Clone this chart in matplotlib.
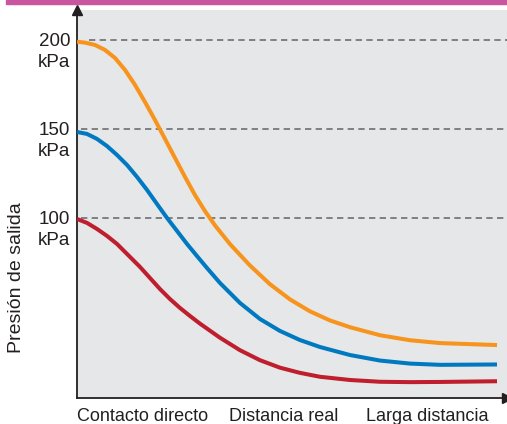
import matplotlib
matplotlib.use('Agg')
import matplotlib.pyplot as plt

plt.rcParams['font.family'] = ['Liberation Sans', 'DejaVu Sans']

# distance (arbitrary units) vs outlet pressure (kPa)
orange_x = [0, 8, 18, 28, 38, 48, 58, 68, 78, 88, 98, 108, 118, 128, 138, 153, 173, 193,
            213, 233, 253, 273, 303, 333, 363, 393, 420]
orange_y = [199.0, 198.5, 197.2, 194.4, 189.9, 183.2, 174.8, 165.2, 155.1, 144.5, 133.8,
            123.2, 113.0, 104.0, 96.0, 85.5, 73.5, 63.0, 54.5, 47.8, 42.7, 38.9, 34.4,
            31.6, 30.0, 29.4, 28.9]

blue_x = [0, 10, 20, 30, 40, 50, 60, 70, 80, 90, 100, 110, 120, 130, 143, 163, 183, 203,
          223, 243, 273, 303, 333, 363, 420]
blue_y = [148.4, 147.3, 144.5, 140.5, 135.5, 129.9, 123.2, 115.9, 108.0, 100.2, 92.9,
          85.6, 78.8, 72.1, 63.7, 52.5, 43.5, 36.8, 31.7, 27.8, 23.3, 20.2, 18.5, 17.8, 18.0]

red_x = [0, 10, 20, 30, 40, 50, 63, 73, 83, 93, 103, 113, 123, 143, 163, 183, 203, 223,
         243, 273, 303, 333, 363, 420]
red_y = [99.6, 97.4, 94.0, 90.1, 85.6, 80.0, 72.7, 66.5, 60.3, 54.7, 49.7, 45.2, 40.9,
         33.0, 26.0, 20.4, 16.2, 13.3, 11.1, 9.3, 8.3, 8.1, 8.2, 8.6]

ref_levels = [200, 150, 100]
ref_numbers = ['200', '150', '100']
x_labels = ['Contacto directo', 'Distancia real', 'Larga distancia']
x_label_pos = [66, 207, 350]

fig = plt.figure(figsize=(5.07, 4.24), dpi=100)
fig.patch.set_facecolor('white')

# magenta strip at top
fig.patches.append(plt.Rectangle((6 / 507, 1 - 4 / 424), 1, 4 / 424,
                                 transform=fig.transFigure, color='#c9559e', zorder=0))

ax = fig.add_axes([77 / 507, 26 / 424, 430 / 507, 388 / 424])
ax.set_facecolor('#e6e7e8')
ax.set_xlim(0, 430)
ax.set_ylim(-0.8, 216.8)

for lev in ref_levels:
    start = 12 / 430 if lev == 200 else 4 / 430
    ax.axhline(lev, xmin=start, xmax=1, color='#6d6e70', lw=1.2,
               dashes=(3.8, 2.6), zorder=1)

ax.plot(red_x, red_y, color='#be1e2d', lw=2.9, solid_capstyle='butt',
        solid_joinstyle='round', zorder=3)
ax.plot(blue_x, blue_y, color='#0079c1', lw=2.9, solid_capstyle='butt',
        solid_joinstyle='round', zorder=3)
ax.plot(orange_x, orange_y, color='#f7941d', lw=2.9, solid_capstyle='butt',
        solid_joinstyle='round', zorder=3)

for s in ['top', 'right']:
    ax.spines[s].set_visible(False)
for s in ['left', 'bottom']:
    ax.spines[s].set_color('#231f20')
    ax.spines[s].set_linewidth(1.3)
ax.set_xticks([])
ax.set_yticks([])

# arrow heads
ax.plot([0], [1.0], marker='^', color='#231f20', markersize=7,
        transform=ax.transAxes, clip_on=False, zorder=5)
ax.plot([1.0], [0], marker='>', color='#231f20', markersize=7,
        transform=ax.transAxes, clip_on=False, zorder=5)

for lev, num in zip(ref_levels, ref_numbers):
    ax.text(-7, lev - 3.2, num, ha='right', va='baseline', fontsize=13.5,
            color='#231f20', clip_on=False)
    ax.text(-7, lev - 15, 'kPa', ha='right', va='baseline', fontsize=13.5,
            color='#231f20', clip_on=False)

for pos, lab in zip(x_label_pos, x_labels):
    ax.text(pos, -13.7, lab, ha='center', va='baseline', fontsize=13,
            color='#231f20', clip_on=False)

fig.text(17 / 507, 1 - 278 / 424, 'Presión de salida', rotation=90, ha='center',
         va='center', fontsize=14, color='#231f20')

fig.savefig('out.png', dpi=100)
